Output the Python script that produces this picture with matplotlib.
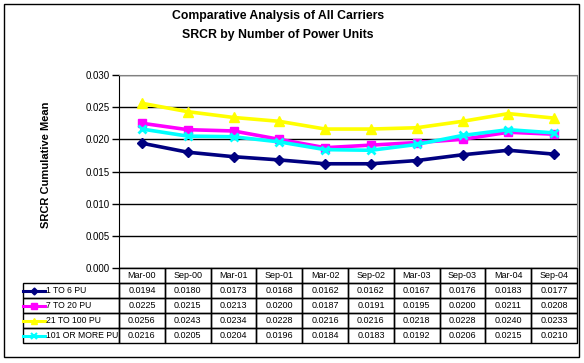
import matplotlib.pyplot as plt
from matplotlib.patches import Rectangle
from matplotlib.lines import Line2D
import matplotlib.transforms as mtransforms

plt.rcParams['font.family'] = ['Liberation Sans', 'DejaVu Sans']

periods = ["Mar-00", "Sep-00", "Mar-01", "Sep-01", "Mar-02",
           "Sep-02", "Mar-03", "Sep-03", "Mar-04", "Sep-04"]
names = ["1 TO 6 PU", "7 TO 20 PU", "21 TO 100 PU", "101 OR MORE PU"]
pu_1_6 = [0.0194, 0.0180, 0.0173, 0.0168, 0.0162, 0.0162, 0.0167, 0.0176, 0.0183, 0.0177]
pu_7_20 = [0.0225, 0.0215, 0.0213, 0.0200, 0.0187, 0.0191, 0.0195, 0.0200, 0.0211, 0.0208]
pu_21_100 = [0.0256, 0.0243, 0.0234, 0.0228, 0.0216, 0.0216, 0.0218, 0.0228, 0.0240, 0.0233]
pu_101 = [0.0216, 0.0205, 0.0204, 0.0196, 0.0184, 0.0183, 0.0192, 0.0206, 0.0215, 0.0210]
yticks = [0.000, 0.005, 0.010, 0.015, 0.020, 0.025, 0.030]

series = [pu_1_6, pu_7_20, pu_21_100, pu_101]
colors = ["#000080", "#FF00FF", "#FFFF00", "#00FFFF"]
markers = ["D", "s", "^", "x"]
msizes = [5.5, 6, 6.5, 6]

W, H = 584, 363
fig = plt.figure(figsize=(W / 100, H / 100), dpi=100)

# plot area in pixels
left, right, top, bottom = 119, 577, 75, 268
ax = fig.add_axes([left / W, 1 - bottom / H, (right - left) / W, (bottom - top) / H])

x = list(range(len(periods)))
# draw in order so cyan sits under magenta like the original
for i in [2, 3, 1, 0]:
    ax.plot(x, series[i], color=colors[i], lw=2.6, marker=markers[i],
            ms=msizes[i], mew=2 if markers[i] == "x" else 1,
            mec=colors[i], mfc=colors[i], zorder=3 + i, clip_on=False)

ax.set_xlim(-0.5, len(periods) - 0.5)
ax.set_ylim(0, 0.030)
ax.set_yticks(yticks)
ax.set_yticklabels(["%.3f" % v for v in yticks], fontsize=7)
ax.set_xticks([])
ax.grid(axis='y', color='black', lw=1)
ax.tick_params(axis='y', length=5, width=1, pad=2, color='black')
ax.spines['left'].set_color('black')
ax.spines['bottom'].set_color('black')
ax.spines['top'].set_color('#808080')
ax.spines['right'].set_color('#808080')
ax.set_axisbelow(True)

# data table under the plot
trans = mtransforms.blended_transform_factory(ax.transData, ax.transAxes)
rh = 15 / (bottom - top)
colw = (right - left) / len(periods)
label_left = -0.5 - (left - 23) / colw
n = len(periods)

# header row (categories)
for j, p in enumerate(periods):
    ax.add_patch(Rectangle((j - 0.5, -rh), 1, rh, transform=trans, fill=False,
                           lw=1, ec='black', clip_on=False))
    ax.text(j, -rh / 2, p, transform=trans, ha='center', va='center', fontsize=6.5)

for i, name in enumerate(names):
    y0 = -(i + 2) * rh
    ax.add_patch(Rectangle((label_left, y0), -0.5 - label_left, rh, transform=trans,
                           fill=False, lw=1, ec='black', clip_on=False))
    kx0 = label_left
    kx1 = label_left + 22 / colw
    ax.add_line(Line2D([kx0, kx1], [y0 + rh / 2] * 2, transform=trans, color=colors[i],
                       lw=2.2, clip_on=False))
    ax.add_line(Line2D([(kx0 + kx1) / 2], [y0 + rh / 2], transform=trans, color=colors[i],
                       marker=markers[i], ms=msizes[i] - 2, mew=1.5 if markers[i] == "x" else 1,
                       clip_on=False))
    ax.text(kx1 + 1 / colw, y0 + rh / 2, name, transform=trans, ha='left', va='center',
            fontsize=6.2)
    for j in range(n):
        ax.add_patch(Rectangle((j - 0.5, y0), 1, rh, transform=trans, fill=False,
                               lw=1, ec='black', clip_on=False))
        ax.text(j, y0 + rh / 2, "%.4f" % series[i][j], transform=trans,
                ha='center', va='center', fontsize=6.5)

# titles
fig.text(278 / W, 1 - 16 / H, "Comparative Analysis of All Carriers", ha='center',
         va='center', fontsize=8.8, fontweight='bold')
fig.text(278 / W, 1 - 35 / H, "SRCR by Number of Power Units", ha='center',
         va='center', fontsize=8.8, fontweight='bold')
fig.text(46 / W, 1 - 165 / H, "SRCR Cumulative Mean", ha='center', va='center',
         rotation=90, fontsize=8, fontweight='bold')

# chart area border
fig.add_artist(Rectangle((4 / W, 1 - 357 / H), 575 / W, 353 / H, transform=fig.transFigure,
                         fill=False, lw=1, ec='black'))

fig.savefig("out.png", dpi=100)
